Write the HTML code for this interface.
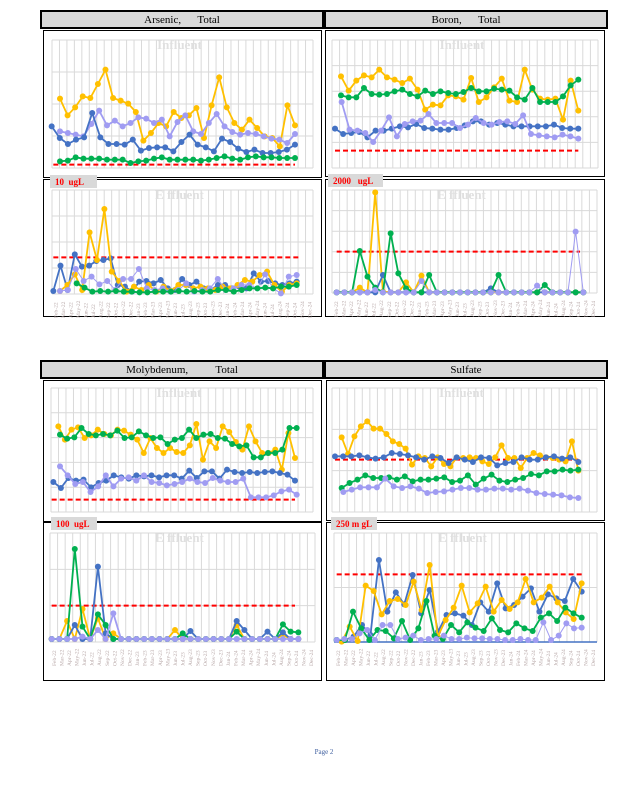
<!DOCTYPE html>
<html><head><meta charset="utf-8"><style>
html,body{margin:0;padding:0;background:#fff;}
svg{display:block;}
</style></head><body>
<svg id="s" width="618" height="800" xmlns="http://www.w3.org/2000/svg" font-family="Liberation Serif, serif"></svg>
<script>
const S=document.getElementById('s');let h='';
const Y='#ffc000',B='#4472c4',L='#a09cf2',G='#00b050';
function rect(x,y,w,hh,st,sw,fill){h+=`<rect x="${x}" y="${y}" width="${w}" height="${hh}" fill="${fill||'none'}" stroke="${st}" stroke-width="${sw}"/>`;}
function grid(x0,x1,y0,y1,rows,title,labels){
  const cols=35;
  for(let i=0;i<=cols;i++){const x=x0+(x1-x0)*i/cols;h+=`<line x1="${x}" y1="${y0}" x2="${x}" y2="${y1}" stroke="#d9d9d9" stroke-width="1"/>`;}
  for(let j=0;j<=rows;j++){const y=y0+(y1-y0)*j/rows;h+=`<line x1="${x0}" y1="${y}" x2="${x1}" y2="${y}" stroke="#d9d9d9" stroke-width="1"/>`;}
  h+=`<text x="${(x0+x1)/2-3}" y="${y0+9}" font-size="13" font-weight="bold" fill="#e0e0e0" text-anchor="middle">${title}</text>`;
  if(labels){const m=['Jan','Feb','Mar','Apr','May','Jun','Jul','Aug','Sep','Oct','Nov','Dec'];
    for(let i=0;i<35;i++){const mi=(i+1)%12,yr=22+Math.floor((i+1)/12);const x=x0+(x1-x0)*(i+0.5)/cols+2;
      h+=`<text transform="translate(${x},${y1+24}) rotate(-90)" font-size="5.5" fill="#b8a8a8">${m[mi]}-${yr}</text>`;}}
}
function series(ox,oy,x0,x1,ys,col,w){
  const n=ys.length;let pts=ys.map((y,i)=>[ox+(x0+(x1-x0)*i/(n-1))/3,oy+y/3]);
  h+=`<polyline points="${pts.map(p=>p.join(',')).join(' ')}" fill="none" stroke="${col}" stroke-width="${w||1.8}"/>`;
  pts.forEach(p=>h+=`<circle cx="${p[0]}" cy="${p[1]}" r="3" fill="${col}"/>`);
}
function fill(x0,x1,n,base,ov){const a=new Array(n).fill(base);ov.forEach(([x,y])=>{const i=Math.round((x-x0)/(x1-x0)*(n-1));a[i]=y;});return a;}
function red(ox,oy,x0,x1,y){h+=`<line x1="${ox+x0/3}" y1="${oy+y/3}" x2="${ox+x1/3}" y2="${oy+y/3}" stroke="#ff0000" stroke-width="2" stroke-dasharray="5,3"/>`;}
function header(x,y,w,t){rect(x,y,w,17,'#000',2,'#d9d9d9');h+=`<text x="${x+w/2}" y="${y+12}" font-size="11" text-anchor="middle" fill="#000" style="white-space:pre" xml:space="preserve">${t}</text>`;}
function tag(x,y,w,t){h+=`<rect x="${x}" y="${y}" width="${w}" height="13" fill="#d9d9d9"/><text x="${x+5}" y="${y+10}" font-size="9" font-weight="bold" fill="#ff0000" xml:space="preserve">${t}</text>`;}

// boxes
header(41,11,282,'Arsenic,      Total');header(325,11,282,'Boron,      Total');
header(41,361,282,'Molybdenum,          Total');header(325,361,282,'Sulfate');
rect(43.5,30.5,278,147,'#000',1);rect(43.5,179.5,278,137,'#000',1);
rect(325.5,30.5,279,146,'#000',1);rect(325.5,179.5,279,137,'#000',1);
rect(43.5,380.5,278,141,'#000',1);rect(43.5,522.5,278,158,'#000',1);
rect(326.5,380.5,278,140,'#000',1);rect(326.5,522.5,278,158,'#000',1);

// TL influent
grid(52,313,40,168,4,'Influent');
red(40,8,40,765,470);
series(40,8,60,765,[272,322,298,265,270,228,185,270,278,287,312,398,375,345,355,312,330,322,300,390,292,208,298,345,365,335,360,385,390,415,292,352],Y);
series(40,8,60,765,[370,375,380,385,348,308,352,338,355,345,328,332,345,335,385,342,322,370,378,345,318,355,372,380,375,378,385,392,395,405,378],L);
series(40,8,35,765,[355,390,408,395,388,315,388,408,408,410,395,428,420,418,418,430,402,380,410,418,430,392,402,422,432,425,435,435,432,425,410],B);
series(40,8,60,765,[460,458,448,452,452,452,455,455,455,465,460,458,452,448,455,455,455,455,458,455,450,445,452,455,448,445,448,448,450,450,450],G);
// TL effluent
grid(52,313,190,294,4,'E ffluent',1);
red(40,175,40,775,247);
series(40,175,40,770,[348,272,345,238,275,272,258,255,250,330,335,350,320,318,325,315,340,345,312,330,320,340,345,330,330,340,335,340,295,320,318,325,330,325,320],B);
series(40,175,60,770,[348,330,298,345,172,255,102,290,318,350,335,345,330,350,335,348,330,330,340,335,340,345,335,340,330,315,320,300,290,330,350,330,325],Y);
series(40,175,60,770,[348,345,282,318,305,328,318,345,312,312,282,340,345,340,350,345,325,350,345,340,312,345,340,330,330,340,298,340,355,305,300],L,1);
series(40,175,110,770,[325,338,350,348,350,348,350,350,352,352,350,350,350,348,350,348,350,350,345,345,350,345,340,340,338,340,335,335,330],G);
tag(50,175,47,'10  ugL');

// TR influent
grid(332,598,40,168,5,'Influent');
red(325,8,30,760,428);
series(325,8,48,760,[205,248,218,202,208,185,208,215,225,212,245,305,290,292,262,265,275,210,282,268,238,212,278,282,185,245,272,275,272,335,218,308],Y);
series(325,8,48,760,[262,268,268,240,258,260,258,250,245,258,265,248,258,250,255,258,252,240,250,250,242,245,248,268,275,240,282,282,282,265,232,215],G);
series(325,8,30,760,[362,378,375,372,388,368,368,362,355,358,348,360,362,365,365,360,352,340,340,350,345,350,355,355,355,355,355,350,360,362,362],B);
series(325,8,50,760,[282,365,368,375,402,368,328,385,348,340,338,318,345,345,345,360,350,330,345,350,342,340,348,322,378,382,385,388,380,385,392],L);
// TR effluent
grid(332,597,190,293,5,'E ffluent',1);
red(325,175,35,765,230);
series(325,175,35,775,fill(35,775,33,352,[[105,338],[142,52],[165,350],[240,322],[280,302]]),Y);
series(325,175,35,775,fill(35,775,33,352,[[170,300],[500,340]]),B);
series(325,175,35,775,fill(35,775,33,352,[[105,228],[128,305],[150,338],[195,175],[218,295],[240,340],[308,300],[515,300],[650,330]]),G);
series(325,175,35,775,fill(35,775,33,352,[[142,345],[280,318],[625,332],[762,170]]),L,1);
tag(328,174,55,'2000   ugL');

// BL influent
grid(51,313,388,512,5,'Influent');
red(40,358,35,765,425);
series(40,358,55,765,[205,245,215,208,240,232,215,228,232,215,218,230,245,285,240,270,285,270,282,285,262,198,305,250,270,205,222,252,275,205,250,285,285,275,335,225,300],Y);
series(40,358,60,770,[230,242,238,210,228,232,228,232,218,240,238,220,232,240,238,258,245,240,215,240,230,228,240,242,258,265,262,298,298,285,285,275,210,210],G);
series(40,358,40,765,[372,390,360,368,365,388,375,368,352,358,362,352,355,352,358,352,352,362,338,360,340,340,362,335,342,345,342,345,342,340,345,350,368],B);
series(40,358,60,770,[325,352,378,372,402,385,352,385,362,358,368,352,372,375,382,378,372,362,372,375,360,368,372,372,362,418,418,418,412,400,395,410],L);
// BL effluent
grid(50,315,533,642,3,'E ffluent',1);
red(40,515,35,765,272);
series(40,515,35,775,fill(35,775,33,372,[[85,318],[130,282],[178,310],[222,355],[405,345],[595,330],[720,360]]),Y);
series(40,515,35,775,fill(35,775,33,372,[[108,330],[175,155],[198,355],[455,348],[595,318],[618,345],[680,350],[740,352]]),B);
series(40,515,35,775,fill(35,775,33,372,[[108,102],[130,335],[178,298],[200,330],[430,355],[595,350],[718,328],[740,328],[760,350],[775,352]]),G);
series(40,515,35,775,fill(35,775,33,372,[[130,365],[175,345],[220,295]]),L);
tag(51,517,46,'100  ugL');

// BR influent
grid(332,597,388,512,3,'Influent');
red(325,358,30,760,305);
series(325,358,50,760,[238,288,235,205,190,212,212,228,250,258,272,320,295,300,325,298,318,325,298,300,298,300,310,318,298,262,300,300,330,300,285,292,298,300,305,310,250,338],Y);
series(325,358,30,760,[295,295,295,292,298,302,298,285,288,292,298,305,295,300,315,298,305,312,298,300,322,315,312,298,305,305,298,295,302,298,312],B);
series(325,358,50,760,[390,375,365,352,360,360,358,365,355,370,365,365,362,358,372,368,352,380,362,350,368,372,365,360,348,352,340,340,335,338,335],G);
series(325,358,55,760,[402,395,388,388,388,362,385,390,385,392,405,402,400,395,390,390,395,395,392,392,395,392,398,405,408,410,412,418,420],L);
// BR effluent
grid(334,597,533,642,2,'E ffluent',1);
h+=`<line x1="334" y1="642" x2="597" y2="642" stroke="${B}" stroke-width="1.5"/>`;
red(325,515,35,770,178);
series(325,515,35,770,[375,375,365,330,360,135,290,232,268,180,295,225,350,300,295,302,330,262,290,205,280,270,245,220,290,238,250,258,192,230],B);
series(325,515,50,770,[380,335,378,212,228,298,258,252,270,200,285,150,365,315,278,212,292,265,215,290,255,282,262,192,262,248,215,262,292,312,205],Y);
series(325,515,35,770,[375,375,290,340,375,345,348,370,318,375,340,258,362,372,330,352,322,338,348,310,345,352,325,340,348,308,295,318,278,295,308],G);
series(325,515,35,770,[375,372,372,355,345,375,330,330,372,368,362,375,372,372,362,372,372,368,370,370,372,372,375,375,372,375,375,322,375,362,325,340,338],L,1);
tag(331,517,46,'250 m gL');

h+=`<text x="324" y="754" font-size="7" fill="#4060a0" text-anchor="middle">Page 2</text>`;
S.innerHTML=h;
</script>
</body></html>
